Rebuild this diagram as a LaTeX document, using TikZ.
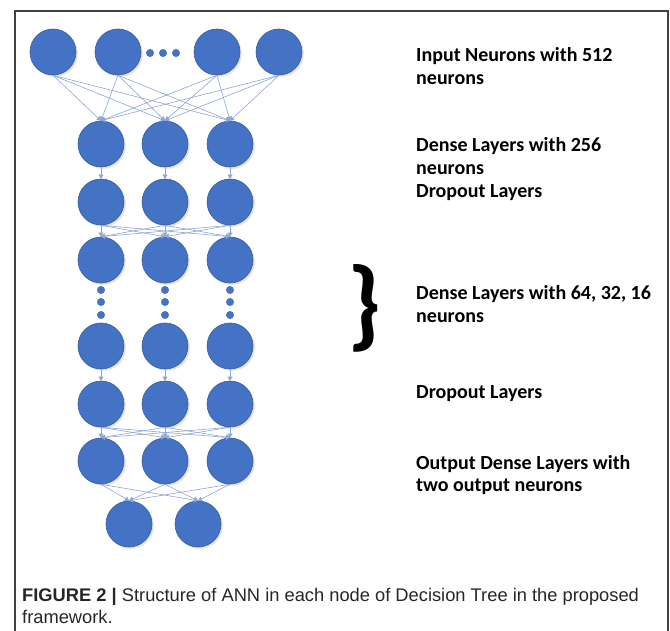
\documentclass[tikz,border=0pt]{standalone}
\usepackage{fontspec}
\setmainfont{Carlito}
\newfontfamily\capfont{Liberation Sans}
\usetikzlibrary{arrows.meta,shadows}

\definecolor{nblue}{RGB}{68,114,196}
\definecolor{nedge}{RGB}{52,90,160}
\definecolor{lblue}{RGB}{140,166,214}

\tikzset{
    neuron/.style={circle, minimum size=46pt, inner sep=0pt, fill=nblue, draw=nedge, line width=0.6pt,
        drop shadow={opacity=0.22, shadow xshift=1.8pt, shadow yshift=-1.8pt}},
    dotnode/.style={circle, minimum size=8pt, inner sep=0pt, fill=nblue},
    link/.style={draw=lblue, line width=0.6pt, -{Triangle[length=4pt,width=5pt]}},
    layertxt/.style={anchor=west, inner sep=0pt, align=left, font=\bfseries\fontsize{20}{22.5}\selectfont},
}

\begin{document}
\begin{tikzpicture}[x=1pt, y=-1pt]
    \useasboundingbox (0,0) rectangle (670,631);
    % frame
    \draw[line width=1.2pt, black!75] (15,631) -- (15,11) -- (668,11) -- (668,631);

    % input row
    \foreach \x [count=\i] in {53,118,217,279}
        \node[neuron] (inp\i) at (\x,52) {};
    \foreach \x [count=\i] in {150,163,176}
        \node[dotnode] (idot\i) at (\x,53) {};

    % hidden rows, three neurons each
    \foreach \r/\y in {A/144,B/202,C/260,D/346,E/404,F/461}
        \foreach \x [count=\i] in {101,165,230}
            \node[neuron] (hid\r\i) at (\x,\y) {};
    \foreach \x [count=\i] in {101,165,230}
        \foreach \y [count=\k] in {290,302,315}
            \node[dotnode] (vdot\i\k) at (\x,\y) {};

    % output row
    \foreach \x [count=\i] in {129,198}
        \node[neuron] (outp\i) at (\x,524) {};

    % connections
    \foreach \i in {1,...,4}
        \foreach \j in {1,2,3}
            \draw[link] (inp\i.south) -- (hidA\j.north);
    \foreach \j in {1,2,3}
        \draw[link] (hidA\j) -- (hidB\j);
    \foreach \i in {1,2,3}
        \foreach \j in {1,2,3}
            \draw[link] (hidB\i.south) -- (hidC\j.north);
    \foreach \j in {1,2,3}
        \draw[link] (hidD\j) -- (hidE\j);
    \foreach \i in {1,2,3}
        \foreach \j in {1,2,3}
            \draw[link] (hidE\i.south) -- (hidF\j.north);
    \foreach \i in {1,2,3}
        \foreach \j in {1,2}
            \draw[link] (hidF\i.south) -- (outp\j.north);

    % layer descriptions
    \node[layertxt] (txtIn) at (416,66) {Input Neurons with 512\\neurons};
    \node[layertxt] (txtDense) at (416,156) {Dense Layers with 256\\neurons};
    \node[layertxt] (txtDropA) at (416,193) {Dropout Layers};
    \node[font=\bfseries\fontsize{100}{100}\selectfont, inner sep=0pt] (brace) at (365,308) {\}};
    \node[layertxt] (txtDeep) at (416,304) {Dense Layers with 64, 32, 16\\neurons};
    \node[layertxt] (txtDropB) at (416,394) {Dropout Layers};
    \node[layertxt] (txtOut) at (416,475) {Output Dense Layers with\\two output neurons};

    % caption
    \node[anchor=north west, inner sep=0pt, align=left, text=black!85,
          font=\capfont\fontsize{18.3}{22.5}\selectfont] (caption) at (22,588)
        {{\bfseries FIGURE 2 |} Structure of ANN in each node of Decision Tree in the proposed\\framework.};
\end{tikzpicture}
\end{document}
